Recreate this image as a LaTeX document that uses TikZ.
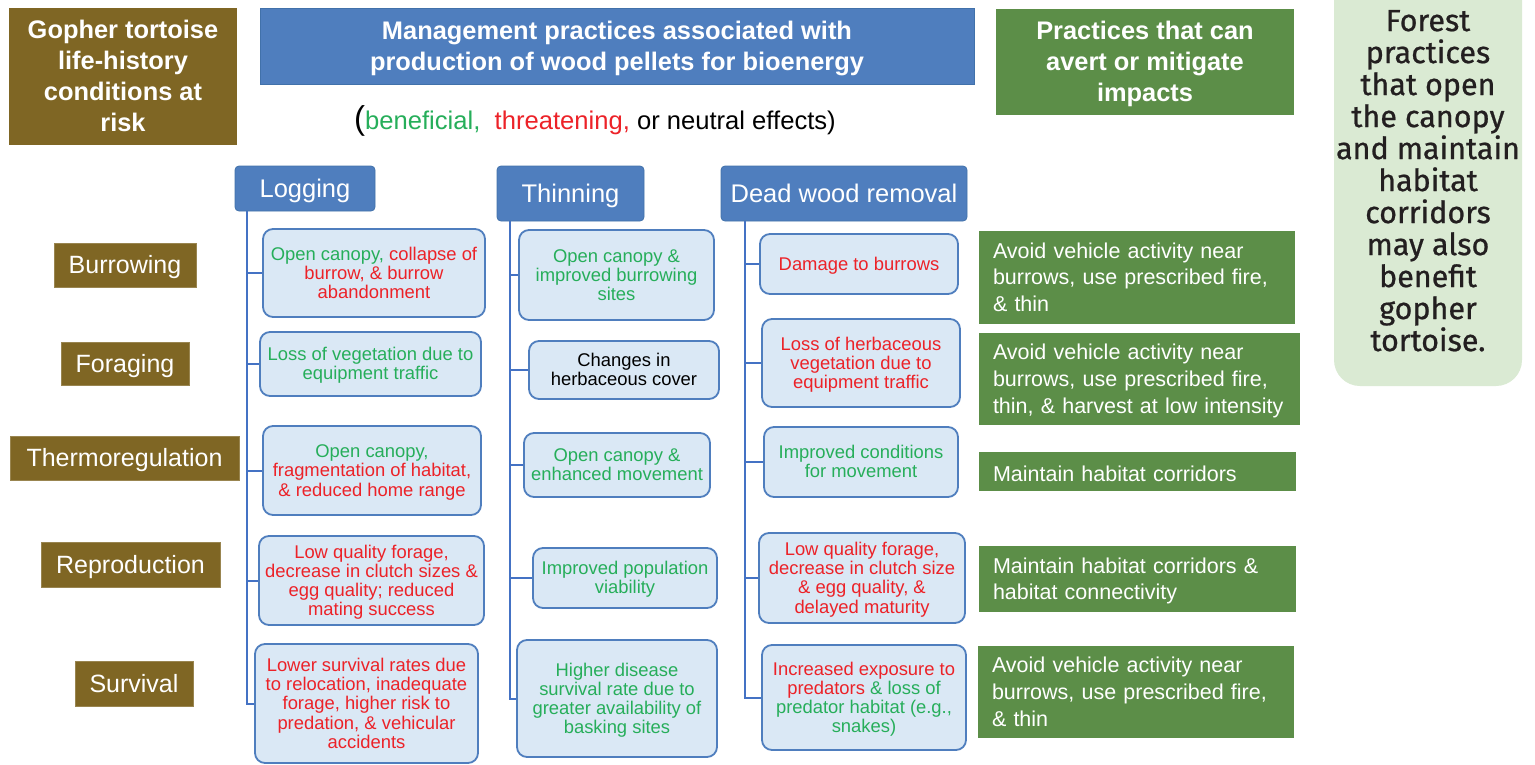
\documentclass[tikz,border=0pt]{standalone}
\usepackage{fontspec}
\setmainfont{Liberation Sans}
\newfontfamily\dinfont{Fira Sans}[FakeBold=0.7]
\definecolor{olivebrown}{RGB}{127,102,36}
\definecolor{headblue}{RGB}{79,126,190}
\definecolor{headedge}{RGB}{65,113,170}
\definecolor{linkblue}{RGB}{68,114,196}
\definecolor{paleblue}{RGB}{218,232,245}
\definecolor{mitgreen}{RGB}{92,142,72}
\definecolor{palegreen}{RGB}{218,234,211}
\definecolor{grn}{RGB}{38,174,90}
\definecolor{rd}{RGB}{236,34,40}
\definecolor{ink}{RGB}{35,31,32}
% struts so that every text block is centred on its capitals
\newcommand\vc[1]{\rule{0pt}{0.905em}#1\rule[-0.212em]{0pt}{0pt}}
\begin{document}
\begin{tikzpicture}[x=1pt,y=-1pt,
  bigbold/.style={font=\fontsize{25.4}{31}\selectfont\bfseries, text=white, align=center, inner sep=0pt},
  lifebox/.style={fill=olivebrown, draw=olivebrown!80!white, line width=0.6pt, text=white,
    font=\fontsize{25}{30}\selectfont, inner sep=0pt},
  practice/.style={fill=headblue, draw=headedge, line width=0.8pt, rounded corners=4pt,
    text=white, font=\fontsize{25.5}{30}\selectfont, inner sep=0pt},
  effect/.style={fill=paleblue, draw=headblue, line width=1.8pt, rounded corners=10pt,
    align=center, inner sep=0pt, font=\fontsize{18.4}{19.2}\selectfont},
  remedy/.style={fill=mitgreen, text=white, inner ysep=0pt, inner xsep=14pt, align=left,
    font=\fontsize{21.5}{26.8}\selectfont},
  link/.style={draw=linkblue, line width=2pt}
]
\useasboundingbox (0,0) rectangle (1535,764);

% ---- column headings ----
\node[bigbold, fill=olivebrown, minimum width=228pt, minimum height=137pt] (lifehead) at (123,76.5)
  {\vc{Gopher tortoise\\life-history\\conditions at\\risk}};
\node[bigbold, fill=headblue, draw=headedge, line width=0.8pt, minimum width=714pt, minimum height=76pt] (mgmthead) at (617,46)
  {\vc{Management practices associated with\\production of wood pellets for bioenergy}};
\node[bigbold, fill=mitgreen, minimum width=298pt, minimum height=106pt] (mithead) at (1145,62)
  {\vc{Practices that can\\avert or mitigate\\impacts}};

% ---- legend ----
\node[inner sep=0pt, anchor=base west] (legend) at (354,129)
  {{\fontsize{33}{33}\selectfont(}{\fontsize{25.6}{30}\selectfont\color{grn}beneficial,\ \ \color{rd}threatening,\ \color{black}or neutral effects)}};

% ---- side note ----
\fill[palegreen, rounded corners=26pt] (1334,-40) rectangle (1522,386);
\node[font=\dinfont\fontsize{30.5}{32}\selectfont, text=ink, align=center, inner sep=0pt] (note) at (1428,180.5)
  {\vc{Forest\\practices\\that open\\the canopy\\and maintain\\habitat\\corridors\\may also\\benefit\\gopher\\tortoise.}};

% ---- life-history conditions ----
\node[lifebox, minimum width=142pt, minimum height=44pt] (burrow) at (125,265) {\vc{Burrowing}};
\node[lifebox, minimum width=128pt, minimum height=43pt] (forage) at (125,363.5) {\vc{Foraging}};
\node[lifebox, minimum width=229pt, minimum height=44pt] (thermo) at (124.5,458) {\vc{Thermoregulation}};
\node[lifebox, minimum width=179pt, minimum height=45pt] (repro) at (130.5,564.5) {\vc{Reproduction}};
\node[lifebox, minimum width=118pt, minimum height=45pt] (surv) at (134,683.5) {\vc{Survival}};

% ---- practices ----
\node[practice, minimum width=140pt, minimum height=45pt] (log) at (305,188.5) {\vc{Logging}};
\node[practice, minimum width=147pt, minimum height=55pt] (thin) at (570.5,193.5) {\vc{Thinning}};
\node[practice, minimum width=246pt, minimum height=55pt] (dead) at (844,193.5) {\vc{Dead wood removal}};

% ---- logging effects ----
\node[effect, text=rd, minimum width=222pt, minimum height=88pt] (L1) at (374,273)
  {\vc{{\color{grn}Open canopy,} collapse of\\burrow, \& burrow\\abandonment}};
\node[effect, text=grn, minimum width=221pt, minimum height=64pt] (L2) at (370.5,364)
  {\vc{Loss of vegetation due to\\equipment traffic}};
\node[effect, text=rd, minimum width=218pt, minimum height=89pt] (L3) at (372,470.5)
  {\vc{{\color{grn}Open canopy,}\\fragmentation of habitat,\\\& reduced home range}};
\node[effect, text=rd, minimum width=225pt, minimum height=89pt] (L4) at (371.5,580.5)
  {\vc{Low quality forage,\\decrease in clutch sizes \&\\egg quality; reduced\\mating success}};
\node[effect, text=rd, minimum width=223pt, minimum height=119pt] (L5) at (366.5,703.5)
  {\vc{Lower survival rates due\\to relocation, inadequate\\forage, higher risk to\\predation, \& vehicular\\accidents}};

% ---- thinning effects ----
\node[effect, text=grn, minimum width=195pt, minimum height=90pt] (T1) at (616.5,275)
  {\vc{Open canopy \&\\improved burrowing\\sites}};
\node[effect, text=black, minimum width=190pt, minimum height=58pt] (T2) at (624,370)
  {\vc{Changes in\\herbaceous cover}};
\node[effect, text=grn, minimum width=186pt, minimum height=64pt] (T3) at (617,465)
  {\vc{Open canopy \&\\enhanced movement}};
\node[effect, text=grn, minimum width=184pt, minimum height=60pt] (T4) at (625,578)
  {\vc{Improved population\\viability}};
\node[effect, text=grn, minimum width=200pt, minimum height=117pt] (T5) at (617,698.5)
  {\vc{Higher disease\\survival rate due to\\greater availability of\\basking sites}};

% ---- dead wood removal effects ----
\node[effect, text=rd, minimum width=198pt, minimum height=60pt] (D1) at (859,264)
  {\vc{Damage to burrows}};
\node[effect, text=rd, minimum width=198pt, minimum height=88pt] (D2) at (861,363)
  {\vc{Loss of herbaceous\\vegetation due to\\equipment traffic}};
\node[effect, text=grn, minimum width=194pt, minimum height=70pt] (D3) at (861,462)
  {\vc{Improved conditions\\for movement}};
\node[effect, text=rd, minimum width=206pt, minimum height=90pt] (D4) at (862,578)
  {\vc{Low quality forage,\\decrease in clutch size\\\& egg quality, \&\\delayed maturity}};
\node[effect, text=rd, minimum width=204pt, minimum height=105pt] (D5) at (864,697.5)
  {\vc{Increased exposure to\\predators {\color{grn}\& loss of}\\{\color{grn}predator habitat (e.g.,}\\{\color{grn}snakes)}}};

% ---- mitigating practices ----
\node[remedy, text width=288pt, minimum height=93pt] (G1) at (1137,277.5)
  {\vc{Avoid vehicle activity near\\burrows, use prescribed fire,\\\& thin}};
\node[remedy, text width=293pt, minimum height=92pt] (G2) at (1139.5,379)
  {\vc{Avoid vehicle activity near\\burrows, use prescribed fire,\\thin, \& harvest at low intensity}};
\node[remedy, text width=289pt, minimum height=39pt] (G3) at (1137.5,471.5)
  {\rule{0pt}{1.1em}Maintain habitat corridors\rule[-0.212em]{0pt}{0pt}};
\node[remedy, text width=289pt, minimum height=66pt] (G4) at (1137.5,579)
  {\vc{Maintain habitat corridors \&\\habitat connectivity}};
\node[remedy, text width=288pt, minimum height=92pt] (G5) at (1136,692)
  {\vc{Avoid vehicle activity near\\burrows, use prescribed fire,\\\& thin}};

% ---- trunks and branches ----
\coordinate (logtrunk) at (247,0);
\coordinate (thintrunk) at (510,0);
\coordinate (deadtrunk) at (745,0);

\draw[link] (log.south -| logtrunk) |- (L5.west);
\foreach \b in {L1,L2,L3,L4} \draw[link] (logtrunk |- \b.west) -- (\b.west);
\draw[link] (thin.south -| thintrunk) |- (T5.west);
\foreach \b in {T1,T2,T3,T4} \draw[link] (thintrunk |- \b.west) -- (\b.west);
\draw[link] (dead.south -| deadtrunk) |- (D5.west);
\foreach \b in {D1,D2,D3,D4} \draw[link] (deadtrunk |- \b.west) -- (\b.west);
\end{tikzpicture}
\end{document}
